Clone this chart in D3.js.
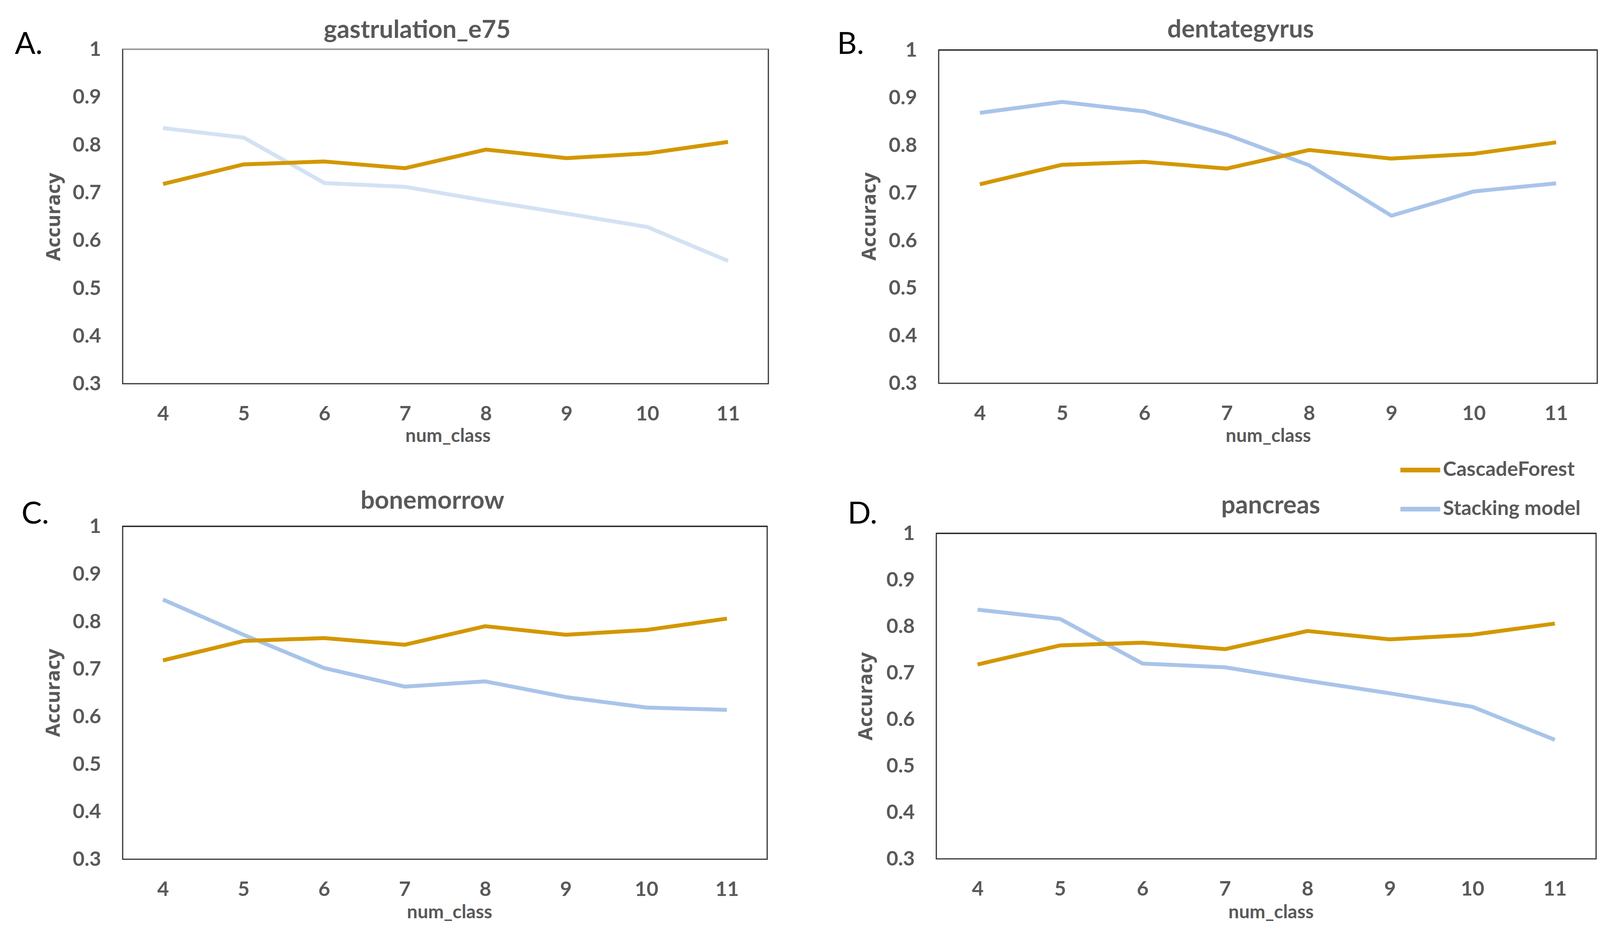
<!DOCTYPE html>
<html>
<head>
<meta charset="utf-8">
<script src="https://cdn.jsdelivr.net/npm/d3@7"></script>
<style>
  html, body { margin: 0; padding: 0; background: #fff; }
  svg { display: block; }
</style>
</head>
<body>
<div id="chart"></div>
<script>
// values
var numClass = [4, 5, 6, 7, 8, 9, 10, 11];
var yTicks = [0.3, 0.4, 0.5, 0.6, 0.7, 0.8, 0.9, 1];
var seriesNames = ["CascadeForest", "Stacking model"];

var cascadeForest = [0.718, 0.759, 0.765, 0.751, 0.790, 0.772, 0.782, 0.806];
var stackingGastrulation = [0.835, 0.815, 0.720, 0.712, 0.683, 0.656, 0.628, 0.557];
var stackingDentategyrus = [0.868, 0.891, 0.871, 0.822, 0.758, 0.652, 0.703, 0.720];
var stackingBonemorrow = [0.846, 0.772, 0.702, 0.663, 0.674, 0.641, 0.619, 0.614];
var stackingPancreas = [0.836, 0.816, 0.720, 0.712, 0.683, 0.656, 0.627, 0.556];

var panelTitles = ["gastrulation_e75", "dentategyrus", "bonemorrow", "pancreas"];
var panelLetters = ["A.", "B.", "C.", "D."];

var W = 4135, H = 2398;
var orange = "#d39700",
    blue = "#a8c4e9",
    paleBlue = "#d3e2f4",
    textGrey = "#595959";

// box geometry of each panel + where its texts sit
var panels = [
    {box: [314, 126, 1967, 982], stacking: stackingGastrulation, blue: paleBlue, topEdge: "#9a9a9a",
     title: [1068, 97], letter: [38, 138], yLab: [154, 555], xLab: [1147, 1114]},
    {box: [2403, 128, 4089, 981], stacking: stackingDentategyrus, blue: blue, topEdge: "#222",
     title: [3176, 96], letter: [2143, 138], yLab: [2242, 554], xLab: [3247, 1114]},
    {box: [314, 1347, 1964, 2199], stacking: stackingBonemorrow, blue: blue, topEdge: "#222",
     title: [1107, 1302], letter: [55, 1340], yLab: [153, 1773], xLab: [1151, 2333]},
    {box: [2397, 1365, 4086, 2198], stacking: stackingPancreas, blue: blue, topEdge: "#222",
     title: [3253, 1314], letter: [2170, 1340], yLab: [2233, 1782], xLab: [3254, 2333]}
];

var svg = d3.select("#chart").append("svg")
    .attr("width", W)
    .attr("height", H);

panels.forEach(function(p, k) {
    var x0 = p.box[0], y0 = p.box[1], x1 = p.box[2], y1 = p.box[3];

    var x = d3.scalePoint()
        .domain(numClass)
        .range([x0, x1])
        .padding(0.5);
    var y = d3.scaleLinear()
        .domain([0.3, 1])
        .range([y1, y0]);

    var g = svg.append("g");

    g.append("rect")
        .attr("x", x0)
        .attr("y", y0)
        .attr("width", x1 - x0)
        .attr("height", y1 - y0)
        .attr("fill", "none")
        .attr("stroke", "#333")
        .attr("stroke-width", 3);

    // the top edge is drawn a bit lighter in some panels
    g.append("line")
        .attr("x1", x0)
        .attr("x2", x1)
        .attr("y1", y0)
        .attr("y2", y0)
        .attr("stroke", p.topEdge)
        .attr("stroke-width", 3);

    var yAxis = g.append("g")
        .attr("transform", "translate(" + x0 + ",0)")
        .call(d3.axisLeft(y).tickValues(yTicks).tickSize(0).tickPadding(55)
            .tickFormat(function(d) { return d === 1 ? "1" : d3.format(".1f")(d); }));
    yAxis.select(".domain").remove();

    var xAxis = g.append("g")
        .attr("transform", "translate(0," + y1 + ")")
        .call(d3.axisBottom(x).tickSize(0).tickPadding(57));
    xAxis.select(".domain").remove();

    g.selectAll(".tick text")
        .attr("fill", textGrey)
        .style("font", "bold 52px Lato, sans-serif");

    var line = d3.line()
        .x(function(d, i) { return x(numClass[i]); })
        .y(function(d) { return y(d); });

    var lines = [
        {vals: p.stacking, color: p.blue},
        {vals: cascadeForest, color: orange}
    ];
    g.selectAll("path.series")
        .data(lines)
        .enter().append("path")
        .attr("class", "series")
        .attr("d", function(d) { return line(d.vals); })
        .attr("fill", "none")
        .attr("stroke", function(d) { return d.color; })
        .attr("stroke-width", 10)
        .attr("stroke-linejoin", "round");

    g.append("text")
        .text(panelTitles[k])
        .attr("x", p.title[0])
        .attr("y", p.title[1])
        .attr("text-anchor", "middle")
        .attr("fill", textGrey)
        .style("font", "bold 64px Lato, sans-serif");

    g.append("text")
        .text(panelLetters[k])
        .attr("x", p.letter[0])
        .attr("y", p.letter[1])
        .attr("fill", "#000")
        .style("font", "78px Lato, sans-serif");

    g.append("text")
        .text("Accuracy")
        .attr("transform", "translate(" + p.yLab[0] + "," + p.yLab[1] + ") rotate(-90)")
        .attr("text-anchor", "middle")
        .attr("fill", textGrey)
        .style("font", "bold 50px 'Open Sans', sans-serif");

    g.append("text")
        .text("num_class")
        .attr("x", p.xLab[0])
        .attr("y", p.xLab[1])
        .attr("dy", "0.35em")
        .attr("text-anchor", "middle")
        .attr("fill", textGrey)
        .style("font", "bold 48px Lato, sans-serif");
});

// legend
var legendColors = [orange, blue];
var legend = svg.append("g")
    .attr("transform", "translate(3585,1203)");

var legendEnts = legend.selectAll("g")
    .data(seriesNames)
    .enter()
    .append("g")
        .attr("transform", function(d, i) {
            return "translate(0," + (100 * i) + ")";
        });

legendEnts.append("line")
    .attr("x1", 0)
    .attr("x2", 102)
    .attr("stroke", function(d, i) { return legendColors[i]; })
    .attr("stroke-width", 12);

legendEnts.append("text")
    .attr("x", 109)
    .attr("y", 15)
    .text(function(d) { return d; })
    .attr("fill", textGrey)
    .style("font", "bold 52px Lato, sans-serif");
</script>
</body>
</html>
